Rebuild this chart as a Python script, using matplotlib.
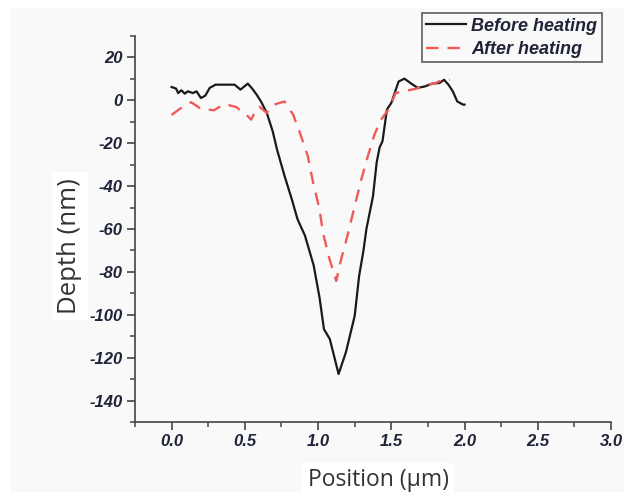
import matplotlib
matplotlib.use("Agg")
import matplotlib.pyplot as plt
from matplotlib.patches import Rectangle
from matplotlib.ticker import MultipleLocator, FixedLocator

# ---- data ----
before_x = [0.0, 0.03, 0.045, 0.066, 0.09, 0.11, 0.146, 0.17, 0.2, 0.23, 0.26, 0.3, 0.33,
            0.43, 0.47, 0.52, 0.55, 0.58, 0.61, 0.65, 0.69, 0.72, 0.77, 0.82, 0.86, 0.91,
            0.97, 1.01, 1.04, 1.08, 1.14, 1.19, 1.25, 1.28, 1.31, 1.33, 1.375, 1.40, 1.42,
            1.44, 1.47, 1.50, 1.55, 1.59, 1.63, 1.68, 1.73, 1.78, 1.83, 1.86, 1.89, 1.92,
            1.95, 1.99, 2.0]
before_y = [6.2, 5.5, 3.4, 4.7, 3.1, 4.2, 3.4, 4.2, 1.1, 2.2, 5.8, 7.3, 7.3,
            7.3, 5.0, 7.8, 5.5, 2.7, -0.5, -5.9, -14.4, -23, -35, -46, -55.5, -63,
            -77, -92, -106.7, -111.3, -127.6, -117.5, -100.5, -82, -70, -60, -44.7, -29, -22,
            -19, -4.3, -1.2, 8.8, 10.1, 8.1, 5.8, 6.5, 7.8, 8.1, 9.6, 7.3, 4.2,
            -0.5, -2.0, -2.0]

after_x = [0.0, 0.055, 0.134, 0.2, 0.29, 0.36, 0.44, 0.51, 0.544, 0.578, 0.60, 0.65, 0.70,
           0.77, 0.83, 0.87, 0.93, 0.966, 1.01, 1.033, 1.078, 1.124, 1.158, 1.2, 1.25,
           1.295, 1.34, 1.385, 1.43, 1.48, 1.53, 1.58, 1.64, 1.69, 1.75, 1.8, 1.85, 1.9]
after_y = [-6.8, -4.0, -0.9, -4.0, -4.6, -1.7, -3.1, -6.7, -9.0, -4.0, -3.0, -5.9, -2.0,
           -0.5, -6.7, -14, -26, -38.4, -50.8, -61.7, -74, -84.2, -74, -63.3, -49.3,
           -36.9, -26, -16, -9, -4.3, 3.4, 4.2, 5.0, 5.8, 7.3, 8.0, 9.6, 9.6]

series_labels = ["Before heating", "After heating"]
x_ticks = [0.0, 0.5, 1.0, 1.5, 2.0, 2.5, 3.0]
x_tick_labels = ["0.0", "0.5", "1.0", "1.5", "2.0", "2.5", "3.0"]
y_ticks = [-140, -120, -100, -80, -60, -40, -20, 0, 20]
y_tick_labels = ["-140", "-120", "-100", "-80", "-60", "-40", "-20", "0", "20"]
x_label = "Position (\u00b5m)"
y_label = "Depth (nm)"

plt.rcParams["lines.scale_dashes"] = False

W, H = 624, 494
fig = plt.figure(figsize=(W / 100, H / 100), dpi=100, facecolor="white")

# light grey panel
fig.patches.append(Rectangle((10 / W, 2 / H), 1 - 10 / W, (492 - 8) / H,
                             transform=fig.transFigure, facecolor="#f9f9f9",
                             edgecolor="none", zorder=-10))

ax = fig.add_axes([135 / W, 1 - 422 / H, (611 - 135) / W, (422 - 36) / H])
ax.set_facecolor("none")

ax.plot(before_x, before_y, color="#1a1a1a", lw=1.6, label=series_labels[0])
ax.plot(after_x, after_y, color="#f05a5a", lw=1.7, dashes=(9, 6.5), label=series_labels[1])

ax.set_xlim(-0.25, 3.0)
ax.set_ylim(-150, 30)

for s in ["top", "right"]:
    ax.spines[s].set_visible(False)
for s in ["left", "bottom"]:
    ax.spines[s].set_color("#444444")
    ax.spines[s].set_linewidth(1.2)

ax.xaxis.set_major_locator(FixedLocator(x_ticks))
ax.set_xticklabels(x_tick_labels)
ax.xaxis.set_minor_locator(MultipleLocator(0.25))
ax.yaxis.set_major_locator(FixedLocator(y_ticks))
ax.set_yticklabels(y_tick_labels)
ax.yaxis.set_minor_locator(MultipleLocator(10))

ax.tick_params(which="major", direction="out", length=6, width=1.2, color="#444444", pad=3)
ax.tick_params(which="minor", direction="out", length=3.5, width=1.1, color="#444444")
for lab in ax.get_xticklabels() + ax.get_yticklabels():
    lab.set_family("Liberation Sans")
    lab.set_fontweight("bold")
    lab.set_fontstyle("italic")
    lab.set_fontsize(12)
    lab.set_color("#1f2438")

# axis labels in white boxes
fig.text(70 / W, 1 - 246 / H, y_label, rotation=90, ha="center", va="center",
         fontsize=18.5, family="Open Sans", color="#333333",
         bbox=dict(facecolor="white", edgecolor="none", pad=4))
fig.text(378 / W, 1 - 480 / H, x_label, ha="center", va="center",
         fontsize=16.5, family="Open Sans", color="#333333",
         bbox=dict(facecolor="white", edgecolor="none", pad=4))

leg = fig.legend(loc="upper right", bbox_to_anchor=(602 / W, 1 - 13 / H),
                 borderaxespad=0, frameon=True, fancybox=False,
                 prop=dict(family="Liberation Sans", weight="bold", style="italic", size=13),
                 handlelength=2.2, handletextpad=0.3, borderpad=0.25, labelspacing=0.35)
leg.get_frame().set_edgecolor("#444444")
leg.get_frame().set_linewidth(1.3)
leg.get_frame().set_facecolor("#f9f9f9")
for t in leg.get_texts():
    t.set_color("#1f2438")

fig.savefig("out.png", dpi=100, facecolor="white")
